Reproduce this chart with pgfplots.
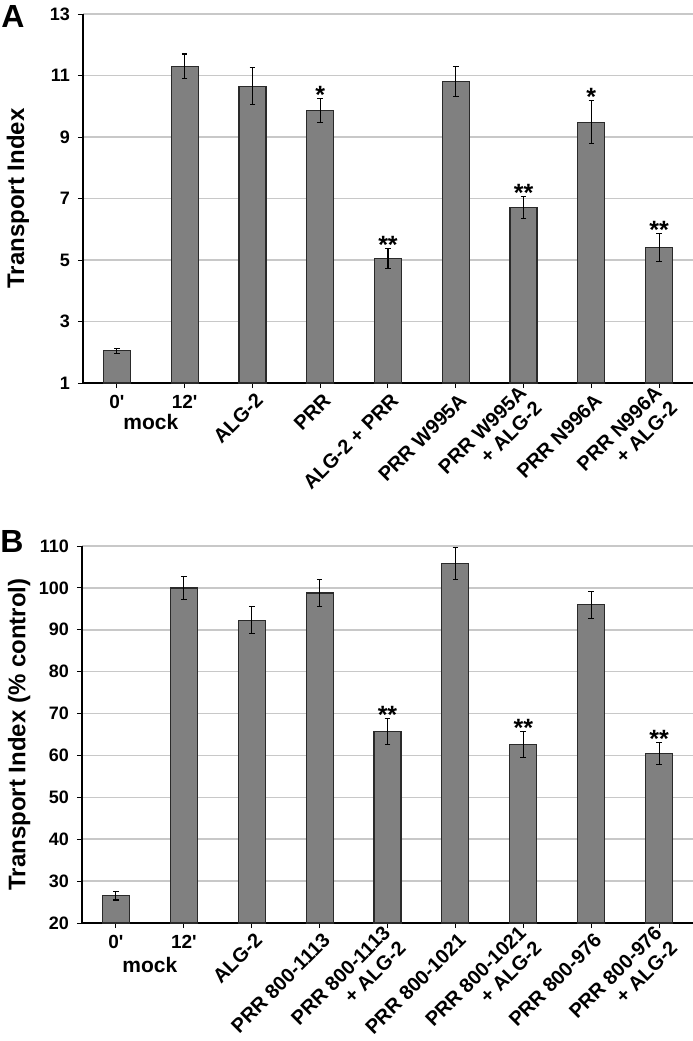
\documentclass[border=0pt]{standalone}
\usepackage{fontspec}
\setmainfont{Liberation Sans}
\usepackage{pgfplots}
\pgfplotsset{compat=1.18}
\usepackage{pgfplotstable}

\definecolor{barfill}{HTML}{808080}
\definecolor{baredge}{HTML}{2A2A2A}
\definecolor{gridgray}{HTML}{C8C8C8}

\newcommand{\yfont}{\fontsize{18}{18}\selectfont\bfseries}
\newcommand{\xfont}{\fontsize{19}{22}\selectfont\bfseries}
\newcommand{\rotfont}{\fontsize{20}{22}\selectfont\bfseries}
\newcommand{\labfont}{\fontsize{24}{24}\selectfont\bfseries}
\newcommand{\starfont}{\fontsize{25}{25}\selectfont\bfseries}
\newcommand{\panelfont}{\fontsize{32}{32}\selectfont\bfseries}

\pgfplotstableread{
x y e
0 2.05 0.08
1 11.30 0.40
2 10.65 0.60
3 9.87 0.39
4 5.04 0.33
5 10.80 0.49
6 6.70 0.36
7 9.48 0.70
8 5.40 0.46
}\dataA

\pgfplotstableread{
x y lab
3 10.26 *
4 5.37 **
6 7.06 **
7 10.18 *
8 5.86 **
}\starsA

\pgfplotstableread{
x y e
0 26.5 1.0
1 100.0 2.8
2 92.3 3.2
3 98.8 3.3
4 65.8 3.1
5 105.8 3.8
6 62.7 3.1
7 96.0 3.2
8 60.4 2.6
}\dataB

\pgfplotstableread{
x y lab
4 68.9 **
6 65.8 **
8 63.0 **
}\starsB

\pgfplotsset{
  panel/.style={
    scale only axis,
    anchor=south west,
    xmin=-0.5, xmax=8.5,
    clip=false,
    axis x line*=bottom, axis y line*=left,
    axis line style={line width=1.3pt, black},
    tick align=outside, major tick length=5pt,
    tick style={line width=1pt, black},
    ymajorgrids, grid style={line width=1.5pt, gridgray},
    xtick={0,1}, xticklabels={0\textquotesingle,12\textquotesingle},
    x tick label style={font=\xfont, inner sep=0pt, anchor=north, yshift=-7pt},
    y tick label style={font=\yfont, inner sep=0pt, xshift=-8pt},
    /pgf/number format/assume math mode=true,
    extra x ticks={2,3,4,5,6,7,8},
    extra x tick style={x tick label style={font=\rotfont, xshift=7pt, yshift=-2pt, rotate=45, anchor=east, align=right}},
    ylabel style={font=\labfont},
  },
  bars/.style={ybar, bar width=27pt, fill=barfill, draw=baredge, line width=1.2pt,
    error bars/.cd, y dir=both, y explicit,
    error bar style={line width=1.1pt, black},
    error mark options={rotate=90, line width=1.1pt, black, mark size=2.8pt}},
  stars/.style={draw=none, mark=none, nodes near coords, point meta=explicit symbolic,
    every node near coord/.append style={font=\starfont, anchor=base, inner sep=0pt, yshift=-5pt}},
}

\begin{document}
\begin{tikzpicture}
\useasboundingbox (0pt,0pt) rectangle (693pt,-1041pt);

\node[font=\panelfont] at (13pt,-16pt) {A};
\node[font=\panelfont] at (12pt,-541pt) {B};

\begin{axis}[panel,
  at={(83pt,-383pt)}, width=610pt, height=369pt,
  ymin=1, ymax=13, ytick={1,3,5,7,9,11,13},
  extra x tick labels={ALG-2, PRR, ALG-2 + PRR, PRR W995A, {PRR W995A\\+ ALG-2}, PRR N996A, {PRR N996A\\+ ALG-2}},
  ylabel={Transport Index},
  ylabel style={at={(axis description cs:-0.1066,0.5)}, anchor=center},
]
\addplot[bars] table[x=x, y=y, y error=e] {\dataA};
\addplot[stars] table[x=x, y=y, meta=lab] {\starsA};
\node[font=\fontsize{21}{21}\selectfont\bfseries, anchor=north, inner sep=0pt] at (axis cs:0.5,1) [yshift=-31pt] {mock};
\end{axis}

\begin{axis}[panel,
  at={(82pt,-923pt)}, width=611pt, height=377pt,
  ymin=20, ymax=110, ytick={20,30,...,110},
  extra x tick labels={ALG-2, PRR 800-1113, {PRR 800-1113\\+ ALG-2}, PRR 800-1021, {PRR 800-1021\\+ ALG-2}, PRR 800-976, {PRR 800-976\\+ ALG-2}},
  ylabel={Transport Index (\% control)},
  ylabel style={at={(axis description cs:-0.103,0.5)}, anchor=center},
]
\addplot[bars] table[x=x, y=y, y error=e] {\dataB};
\addplot[stars] table[x=x, y=y, meta=lab] {\starsB};
\node[font=\fontsize{21}{21}\selectfont\bfseries, anchor=north, inner sep=0pt] at (axis cs:0.5,20) [yshift=-34pt] {mock};
\end{axis}
\end{tikzpicture}
\end{document}
